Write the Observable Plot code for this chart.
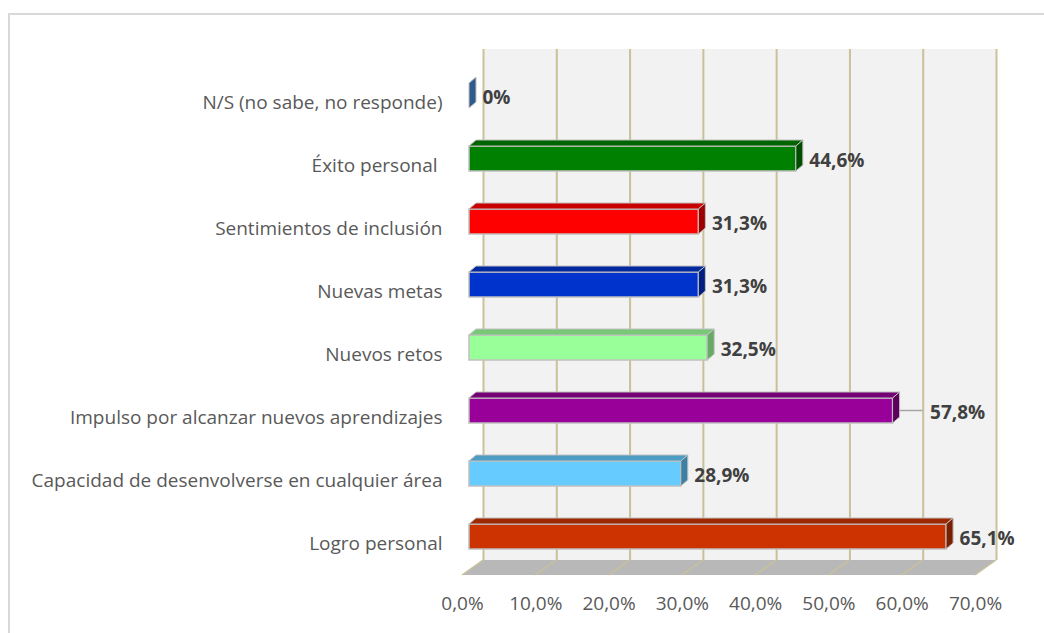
<!DOCTYPE html>
<html><head><meta charset="utf-8">
<script src="https://cdn.jsdelivr.net/npm/d3@7"></script>
<script src="https://cdn.jsdelivr.net/npm/@observablehq/plot@0.6"></script>
<style>
body{margin:0;background:#fff;font-family:"Open Sans",sans-serif;}
#frame{position:absolute;left:8px;top:13px;width:1100px;height:700px;border:2px solid #d9d9d9;box-sizing:border-box;}
#chart{position:absolute;left:0;top:0;}
</style></head><body><div id="frame"></div><div id="chart"></div>
<script>
const categories = [
  "N/S (no sabe, no responde)",
  "Éxito personal\u00a0",
  "Sentimientos de inclusión",
  "Nuevas metas",
  "Nuevos retos",
  "Impulso por alcanzar nuevos aprendizajes",
  "Capacidad de desenvolverse en cualquier área",
  "Logro personal"
];
const values = [0, 44.6, 31.3, 31.3, 32.5, 57.8, 28.9, 65.1];
const frontColors = ["#2e5c8a", "#008000", "#ff0000", "#0033cc", "#99ff99", "#990099", "#66ccff", "#cc3300"];
const topColors   = ["#264d73", "#006400", "#c80000", "#00289f", "#78c878", "#750075", "#4d9cc4", "#9e2800"];
const sideColors  = ["#2f5a8e", "#004d00", "#9e0000", "#001f80", "#66aa66", "#5c005c", "#3d80a6", "#7a1f00"];
const pulledLabel = [false, false, false, false, false, true, false, false];
const xTicks = [0, 10, 20, 30, 40, 50, 60, 70];

const data = categories.map((c, i) => ({
  cat: c, value: values[i], front: frontColors[i], top: topColors[i], side: sideColors[i], pulled: pulledLabel[i]
}));

const fmtValue = v => v === 0 ? "0%" : v.toFixed(1).replace(".", ",") + "%";
const fmtTick = v => v.toFixed(1).replace(".", ",") + "%";

const NS = "http://www.w3.org/2000/svg";
function poly(pts, fill, stroke, sw) {
  const p = document.createElementNS(NS, "path");
  p.setAttribute("d", "M" + pts.map(q => q[0].toFixed(2) + "," + q[1].toFixed(2)).join("L") + "Z");
  p.setAttribute("fill", fill);
  if (stroke) { p.setAttribute("stroke", stroke); p.setAttribute("stroke-width", sw); p.setAttribute("stroke-linejoin", "round"); }
  return p;
}
function line(x1, y1, x2, y2, stroke, sw) {
  const l = document.createElementNS(NS, "line");
  l.setAttribute("x1", x1); l.setAttribute("y1", y1); l.setAttribute("x2", x2); l.setAttribute("y2", y2);
  l.setAttribute("stroke", stroke); l.setAttribute("stroke-width", sw);
  return l;
}

const WALL_DX = 14;   // back wall offset from bar front plane
const FLOOR_DX = -7, FLOOR_DY = 15; // floor front edge
const TOP_DX = 7, TOP_DY = -6;     // bar depth

function floorRender(index, scales, values, dimensions, context, next) {
  const g = document.createElementNS(NS, "g");
  const x = scales.x;
  const yb = dimensions.height - dimensions.marginBottom;
  const a = x(xTicks[0]), b = x(xTicks[xTicks.length - 1]);
  g.appendChild(poly([[a + WALL_DX, yb], [b + WALL_DX, yb], [b + FLOOR_DX, yb + FLOOR_DY], [a + FLOOR_DX, yb + FLOOR_DY]], "#b8b8b8"));
  for (const t of xTicks) {
    const xt = x(t);
    g.appendChild(line(xt + WALL_DX, yb, xt + FLOOR_DX, yb + FLOOR_DY, "#c9c19a", 1.5));
  }
  return g;
}

function barsRender(index, scales, values, dimensions, context, next) {
  const g = next(index, scales, values, dimensions, context);
  const s = scales.y;
  const bw = typeof s.bandwidth === "function" ? s.bandwidth() : s.bandwidth;
  const extra = document.createElementNS(NS, "g");
  for (const i of index) {
    const x1 = values.x1[i], x2 = values.x2[i], y = values.y[i];
    const d = data[i];
    if (x2 - x1 > 0.5) extra.appendChild(poly([[x1, y], [x2, y], [x2 + TOP_DX, y + TOP_DY], [x1 + TOP_DX, y + TOP_DY]], d.top, "#c0c0c0", 1));
    extra.appendChild(poly([[x2, y], [x2 + TOP_DX, y + TOP_DY], [x2 + TOP_DX, y + bw + TOP_DY], [x2, y + bw]], d.side, "#c0c0c0", 1));
    if (d.pulled) extra.appendChild(line(x2 + TOP_DX, y + bw / 2, x2 + 30, y + bw / 2, "#a6a6a6", 1.5));
  }
  g.appendChild(extra);
  return g;
}

const FS = 19;
const chart = Plot.plot({
  width: 1044,
  height: 633,
  marginLeft: 469,
  marginRight: 62,
  marginTop: 49,
  marginBottom: 73,
  style: {fontFamily: "'Open Sans', sans-serif", fontSize: FS + "px", color: "#595959", background: "transparent"},
  x: {domain: [xTicks[0], xTicks[xTicks.length - 1]]},
  y: {domain: categories, range: [41.3, 589.6], padding: 0.6075},
  color: {type: "identity"},
  marks: [
    Plot.rect([xTicks], {x1: d => d[0], x2: d => d[d.length - 1], fill: "#f2f2f2", dx: WALL_DX}),
    Plot.ruleX(xTicks, {stroke: "#c9c19a", strokeWidth: 2, strokeOpacity: 1, dx: WALL_DX}),
    Plot.ruleX(xTicks, {x: d => d, render: floorRender}),
    Plot.barX(data, {y: "cat", x: "value", fill: "front", stroke: "#c0c0c0", strokeWidth: 1.5, render: barsRender}),
    Plot.text(data.filter(d => !d.pulled), {x: "value", y: "cat", text: d => fmtValue(d.value), dx: 13, dy: 1.5, textAnchor: "start", fill: "#404040", fontWeight: "bold", fontSize: FS}),
    Plot.text(data.filter(d => d.pulled), {x: "value", y: "cat", text: d => fmtValue(d.value), dx: 37, dy: 1.5, textAnchor: "start", fill: "#404040", fontWeight: "bold", fontSize: FS}),
    Plot.axisY({tickSize: 0, tickPadding: 27, dy: 7, label: null, fontSize: FS}),
    Plot.axisX(xTicks, {tickSize: 0, tickPadding: 36, dx: -7, label: null, tickFormat: fmtTick, fontSize: FS})
  ]
});
document.getElementById("chart").appendChild(chart);
</script>
</body></html>
